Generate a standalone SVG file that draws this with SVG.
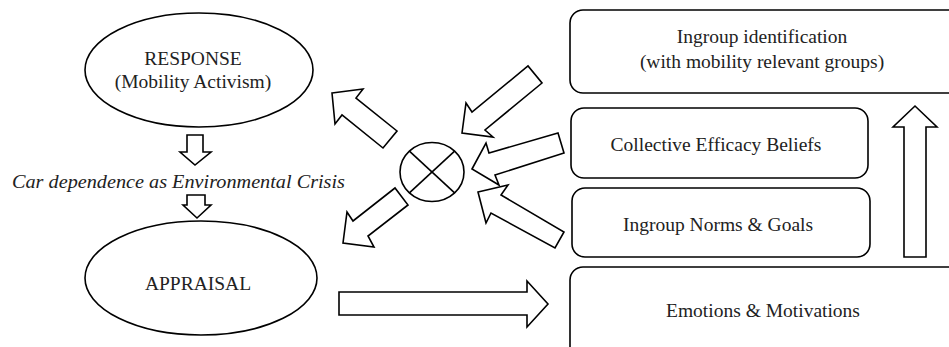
<svg xmlns="http://www.w3.org/2000/svg" width="949" height="347" viewBox="0 0 949 347">
<style>
.s{fill:#fff;stroke:#000;stroke-width:1.6;stroke-linejoin:miter}
.t{font-family:"Liberation Serif","Times New Roman",serif;font-size:19.5px;fill:#222;text-anchor:middle}
.i{font-style:italic;text-anchor:start}
</style>
<rect width="949" height="347" fill="#fff"/>
<g id="response">
<ellipse class="s" cx="199" cy="70" rx="114" ry="57"/>
<text class="t" x="193" y="65">RESPONSE</text>
<text class="t" x="193" y="88">(Mobility Activism)</text>
</g>
<g id="appraisal">
<ellipse class="s" cx="201" cy="278" rx="116" ry="57"/>
<text class="t" x="198" y="290">APPRAISAL</text>
</g>
<g id="crisis-label">
<text class="t i" x="12" y="188" textLength="333" lengthAdjust="spacingAndGlyphs">Car dependence as Environmental Crisis</text>
</g>
<g id="combiner">
<ellipse class="s" cx="432" cy="172" rx="32" ry="29.5"/>
<line class="s" x1="409.4" y1="151.1" x2="454.6" y2="192.9"/>
<line class="s" x1="454.6" y1="151.1" x2="409.4" y2="192.9"/>
</g>
<g id="identification">
<rect class="s" x="570" y="10" width="392" height="83" rx="13"/>
<text class="t" x="762" y="43">Ingroup identification</text>
<text class="t" x="762" y="68">(with mobility relevant groups)</text>
</g>
<g id="efficacy">
<rect class="s" x="571" y="108" width="297" height="70" rx="13"/>
<text class="t" x="716" y="151">Collective Efficacy Beliefs</text>
</g>
<g id="norms">
<rect class="s" x="572" y="188" width="298" height="69" rx="13"/>
<text class="t" x="718" y="231">Ingroup Norms &amp; Goals</text>
</g>
<g id="emotions">
<rect class="s" x="570" y="267" width="392" height="95" rx="13"/>
<text class="t" x="763" y="317">Emotions &amp; Motivations</text>
</g>
<g id="connectors">
<polygon class="s" points="187,135 203,135 203,152 211,152 195,165 180,152 187,152"/>
<polygon class="s" points="187,195 205,195 205,205 211,205 197,218 183,205 187,205"/>
<polygon class="s" points="332,93 363,89 356,98 397,131 383,148 342,115 335,124"/>
<polygon class="s" points="343,243 347,212 353,221 395,188 408,205 368,236 374,247"/>
<polygon class="s" points="462,133 466,103 472,112 528,66 542,83 485,130 493,137"/>
<polygon class="s" points="472,169 486,143 489,153 558,133 564,153 495,175 499,185"/>
<polygon class="s" points="478,192 508,185 501,195 564,232 555,248 491,213 486,223"/>
<polygon class="s" points="339,292 527,292 527,281 548,304 527,327 527,315 339,315"/>
<polygon class="s" points="904,257 926,257 926,127 937,127 915,106 893,127 904,127"/>
</g>
</svg>
